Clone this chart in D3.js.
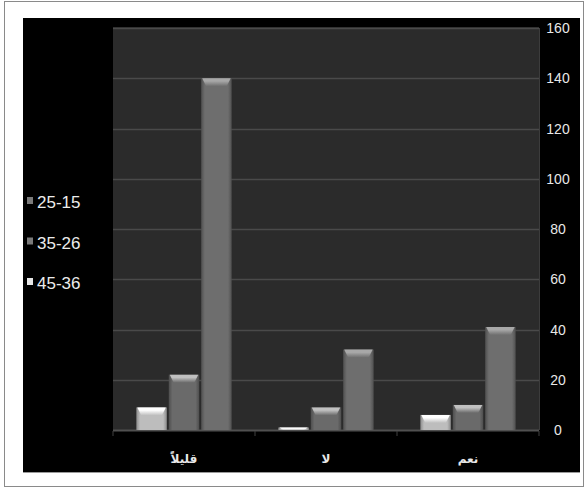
<!DOCTYPE html>
<html>
<head>
<meta charset="utf-8">
<script src="https://cdn.jsdelivr.net/npm/d3@7"></script>
<style>
html,body{margin:0;padding:0;background:#fff;}
svg{display:block;}
</style>
</head>
<body>
<svg id="chart" width="584" height="489"></svg>
<script>
// Data (categories drawn left to right, as in the reference)
const categories = ["قليلاً", "لا", "نعم"];
const seriesNames = ["25-15", "35-26", "45-36"];
const values_25_15 = [140, 32, 41];
const values_35_26 = [22, 9, 10];
const values_45_36 = [9, 1, 6];
const yTicks = [0, 20, 40, 60, 80, 100, 120, 140, 160];

const seriesValues = [values_25_15, values_35_26, values_45_36];
// within each group series are drawn reversed (RTL): 45-36, 35-26, 25-15
const drawOrder = [2, 1, 0];

const svg = d3.select("#chart");
const defs = svg.append("defs");

// outer frame
svg.append("rect").attr("x", 4.5).attr("y", 1.5).attr("width", 579).attr("height", 485)
  .attr("fill", "#fff").attr("stroke", "#8a8a8a").attr("stroke-width", 1);
// black chart area
svg.append("rect").attr("x", 23).attr("y", 18).attr("width", 557).attr("height", 454)
  .attr("fill", "#000");
svg.append("line").attr("x1", 23).attr("x2", 580).attr("y1", 472.5).attr("y2", 472.5)
  .attr("stroke", "#9a9a9a");

const plot = {left: 113, right: 539, top: 28, bottom: 430};

// plot background
svg.append("rect").attr("x", plot.left).attr("y", plot.top - 1)
  .attr("width", plot.right - plot.left).attr("height", plot.bottom - plot.top + 1)
  .attr("fill", "#2b2b2b");

const y = d3.scaleLinear().domain([0, 160]).range([plot.bottom, plot.top]);
const x0 = d3.scaleBand().domain(categories).range([plot.left, plot.right]).paddingInner(0).paddingOuter(0);
const x1 = d3.scaleBand().domain(drawOrder).range([0, x0.bandwidth()]).paddingInner(0.06).paddingOuter(0.72);

// gridlines
svg.append("g").selectAll("line").data(yTicks.filter(d => d > 0)).join("line")
  .attr("x1", plot.left).attr("x2", plot.right)
  .attr("y1", d => Math.round(y(d)) + 0.5).attr("y2", d => Math.round(y(d)) + 0.5)
  .attr("stroke", "#4a4a4a").attr("stroke-width", 1.5);

// right edge line of plot wall
svg.append("line").attr("x1", plot.right + 0.5).attr("x2", plot.right + 0.5)
  .attr("y1", plot.top).attr("y2", plot.bottom).attr("stroke", "#3c3c3c");

// floor / baseline
svg.append("line").attr("x1", plot.left).attr("x2", plot.right)
  .attr("y1", plot.bottom + 0.5).attr("y2", plot.bottom + 0.5)
  .attr("stroke", "#505050").attr("stroke-width", 2);

// category tick marks
svg.append("g").selectAll("line").data(d3.range(categories.length + 1)).join("line")
  .attr("x1", i => plot.left + i * x0.bandwidth()).attr("x2", i => plot.left + i * x0.bandwidth())
  .attr("y1", plot.bottom + 1).attr("y2", plot.bottom + 6)
  .attr("stroke", "#404040");

// gradients for series
const palette = {
  0: {edge: "#505050", mid: "#6e6e6e", hi: "#a8a8a8"},
  1: {edge: "#4e4e4e", mid: "#6a6a6a", hi: "#c0c0c0"},
  2: {edge: "#8c8c8c", mid: "#bdbdbd", hi: "#ffffff"}
};
Object.keys(palette).forEach(k => {
  const p = palette[k];
  const g = defs.append("linearGradient").attr("id", "body" + k).attr("x1", 0).attr("x2", 1).attr("y1", 0).attr("y2", 0);
  g.append("stop").attr("offset", "0%").attr("stop-color", p.edge);
  g.append("stop").attr("offset", "12%").attr("stop-color", p.mid);
  g.append("stop").attr("offset", "88%").attr("stop-color", p.mid);
  g.append("stop").attr("offset", "100%").attr("stop-color", p.edge);
  const t = defs.append("linearGradient").attr("id", "top" + k).attr("x1", 0).attr("x2", 0).attr("y1", 0).attr("y2", 1);
  t.append("stop").attr("offset", "0%").attr("stop-color", p.hi);
  t.append("stop").attr("offset", "35%").attr("stop-color", p.hi);
  t.append("stop").attr("offset", "100%").attr("stop-color", p.mid);
});

// bars
const bars = [];
categories.forEach((c, ci) => {
  drawOrder.forEach(si => {
    bars.push({cat: c, s: si, v: seriesValues[si][ci]});
  });
});
const barG = svg.append("g");
bars.forEach(b => {
  const bx = x0(b.cat) + x1(b.s);
  const bw = x1.bandwidth();
  const by = y(b.v);
  const bh = plot.bottom - by;
  barG.append("rect").attr("x", bx).attr("y", by).attr("width", bw).attr("height", bh)
    .attr("fill", `url(#body${b.s})`);
  const bev = Math.min(8, bh);
  const inset = Math.min(5, bw / 4);
  barG.append("path")
    .attr("d", `M${bx + 1},${by} L${bx + bw - 1},${by} L${bx + bw - inset},${by + bev} L${bx + inset},${by + bev} Z`)
    .attr("fill", `url(#top${b.s})`);
});

// right axis labels
svg.append("g").selectAll("text").data(yTicks).join("text")
  .attr("x", 558).attr("y", d => y(d) + 5)
  .attr("text-anchor", "middle")
  .attr("fill", "#e8e8e8")
  .attr("font-family", "'Liberation Sans Narrow', 'Liberation Sans', Arial, sans-serif")
  .attr("font-size", 14)
  .text(d => d);

// category labels
svg.append("g").selectAll("text").data(categories).join("text")
  .attr("x", d => x0(d) + x0.bandwidth() / 2).attr("y", 463)
  .attr("text-anchor", "middle")
  .attr("fill", "#e8e8e8")
  .attr("font-family", "'DejaVu Sans', sans-serif")
  .attr("font-size", 12)
  .attr("font-weight", "bold")
  .text(d => d);

// legend
const legendColors = ["#7a7a7a", "#7a7a7a", "#e6e6e6"];
const legend = svg.append("g");
seriesNames.forEach((n, i) => {
  const ly = 202 + i * 40.5;
  legend.append("rect").attr("x", 27).attr("y", ly - 5).attr("width", 6).attr("height", 7)
    .attr("fill", legendColors[i]);
  legend.append("text").attr("x", 37).attr("y", ly + 6)
    .attr("fill", "#ececec")
    .attr("font-family", "'Liberation Sans Narrow', 'Liberation Sans', Arial, sans-serif")
    .attr("font-size", 17)
    .text(n);
});
</script>
</body>
</html>
